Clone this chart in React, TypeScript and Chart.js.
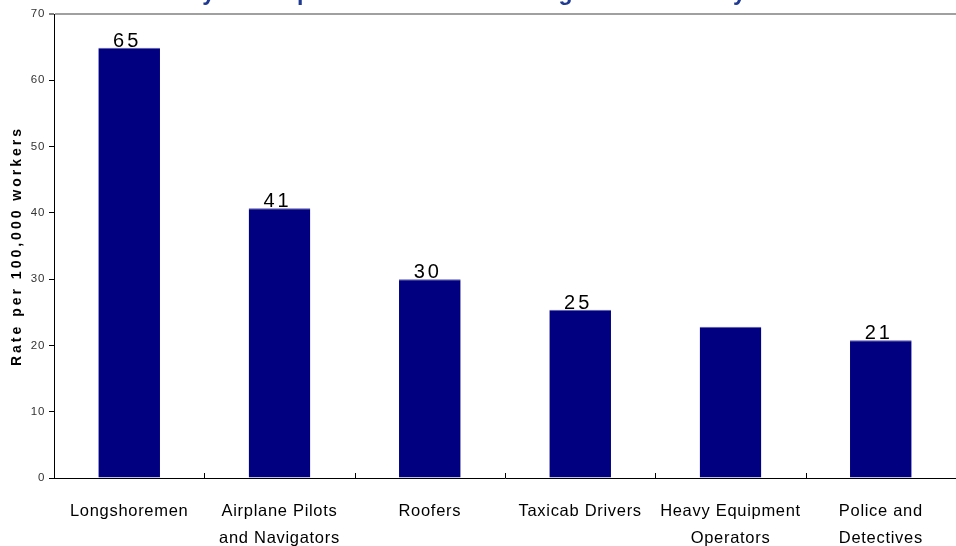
import React, { useEffect, useRef } from "react";
import { Chart, registerables } from "chart.js";

Chart.register(...registerables);

const categories: string[][] = [
  ["Longshoremen"],
  ["Airplane Pilots", "and Navigators"],
  ["Roofers"],
  ["Taxicab Drivers"],
  ["Heavy Equipment", "Operators"],
  ["Police and", "Detectives"],
];
const rates = [64.9, 40.7, 30.0, 25.4, 22.8, 20.8];
const valueLabels = ["65", "41", "30", "25", "", "21"];
const yTicks = [0, 10, 20, 30, 40, 50, 60, 70];
const chartTitle = "Deadly Occupations with the Highest Fatality Rates";
const yAxisTitle = "Rate per 100,000 workers";

const FAMILY = '"Liberation Sans", Arial, Helvetica, sans-serif';

const textPlugin = {
  id: "textAndTicks",
  beforeDraw(chart: any) {
    // chart title and y-axis title
    chart.ctx.letterSpacing = "3px";
  },
  beforeDatasetsDraw(chart: any) {
    chart.ctx.letterSpacing = "0px";
  },
  afterDatasetsDraw(chart: any) {
    const ctx = chart.ctx;
    const meta = chart.getDatasetMeta(0);
    const xs = chart.scales.x;
    const ys = chart.scales.y;
    ctx.save();
    ctx.font = `20px ${FAMILY}`;
    ctx.letterSpacing = "3px";
    ctx.fillStyle = "#000";
    ctx.textAlign = "center";
    ctx.textBaseline = "alphabetic";
    meta.data.forEach((bar: any, i: number) => {
      const t = valueLabels[i];
      if (t) ctx.fillText(t, bar.x - 2, bar.y - 1);
    });
    ctx.restore();

    const y0 = ys.getPixelForValue(yTicks[0]);
    const step = xs.getPixelForValue(1) - xs.getPixelForValue(0);
    ctx.save();
    ctx.strokeStyle = "#000";
    ctx.lineWidth = 1;
    for (let i = 0; i <= categories.length; i++) {
      const px = Math.round(xs.getPixelForValue(i) - step / 2) + 0.5;
      ctx.beginPath();
      ctx.moveTo(px, y0);
      ctx.lineTo(px, y0 - 5);
      ctx.stroke();
    }
    ctx.restore();
    // tick labels of both axes
    ctx.letterSpacing = "0.7px";
  },
  afterDraw(chart: any) {
    chart.ctx.letterSpacing = "0px";
  },
};

export default function App() {
  const ref = useRef<HTMLCanvasElement>(null);

  useEffect(() => {
    if (!ref.current) return;
    Chart.defaults.font.family = FAMILY;
    const chart = new Chart(ref.current, {
      type: "bar",
      data: {
        labels: categories,
        datasets: [
          {
            data: rates,
            backgroundColor: "#000080",
            borderColor: "#5a5aae",
            borderWidth: { top: 1, right: 0, bottom: 0, left: 0 },
            borderSkipped: "start",
            barPercentage: 0.41,
            categoryPercentage: 1,
          },
        ],
      },
      options: {
        animation: false,
        responsive: true,
        maintainAspectRatio: false,
        layout: { padding: { left: 0, right: -4.5, top: 0, bottom: 0 } },
        plugins: {
          legend: { display: false },
          tooltip: { enabled: false },
          title: {
            display: true,
            text: chartTitle,
            color: "#1f3a93",
            font: { size: 23, weight: "bold", family: FAMILY, lineHeight: 1.2 },
            padding: { top: 0, bottom: 6.4 },
          },
        },
        scales: {
          x: {
            type: "category",
            offset: true,
            grid: { display: false },
            border: { display: true, color: "#000", width: 1, z: 1 },
            ticks: {
              z: 1,
              padding: 12,
              color: "#000",
              font: { size: 16.5, family: FAMILY, lineHeight: 1.64 },
              maxRotation: 0,
              minRotation: 0,
              autoSkip: false,
            },
            afterFit(scale: any) {
              scale.height = 68;
            },
          },
          y: {
            min: yTicks[0],
            max: yTicks[yTicks.length - 1],
            grid: {
              drawOnChartArea: true,
              drawTicks: true,
              tickLength: 5,
              tickColor: "#000",
              tickWidth: 1,
              color: (c: any) =>
                c.tick && c.tick.value === yTicks[yTicks.length - 1] ? "#a0a0a0" : "rgba(0,0,0,0)",
              lineWidth: (c: any) =>
                c.tick && c.tick.value === yTicks[yTicks.length - 1] ? 2 : 1,
            },
            border: { display: true, color: "#000", width: 1 },
            ticks: {
              z: 1,
              stepSize: yTicks[1] - yTicks[0],
              padding: 4,
              color: "#333",
              font: { size: 11.5, family: FAMILY },
            },
            title: {
              display: true,
              text: yAxisTitle,
              color: "#000",
              font: { size: 14, weight: "bold", family: FAMILY, lineHeight: 1.2 },
              padding: { top: 9, bottom: 0 },
            },
            afterFit(scale: any) {
              scale.width = 54;
            },
          },
        },
      },
      plugins: [textPlugin],
    } as any);
    return () => chart.destroy();
  }, []);

  return (
    <div
      style={{
        position: "fixed",
        left: 0,
        top: 0,
        width: 956,
        height: 546,
        overflow: "hidden",
        background: "#fff",
      }}
    >
      <div style={{ position: "absolute", left: 0, top: -20, width: 956, height: 566 }}>
        <canvas ref={ref} />
      </div>
    </div>
  );
}
